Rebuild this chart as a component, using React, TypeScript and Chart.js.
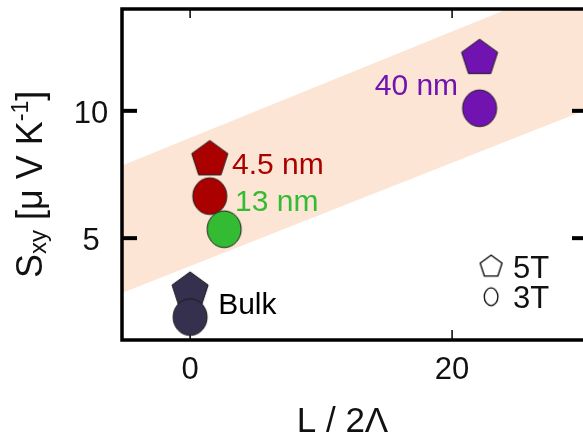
import { useEffect, useRef } from "react";
import { Chart, registerables } from "chart.js";

Chart.register(...registerables);

// ---------- data ----------
const samples = ["Bulk", "4.5 nm", "13 nm", "40 nm"];
const sampleColors = ["#36304f", "#aa0000", "#33bb33", "#7013b0"];
const xValues = [0, 1.5, 2.6, 22.1];
const s5T: (number | null)[] = [2.93, 8.09, null, 12.07];
const s3T = [1.9, 6.65, 5.35, 10.1];
const bandX = [-5.2, 30.3];
const bandLower = [2.85, 10.05];
const bandUpper = [7.85, 15.27];
const xTicks = [0, 20];
const yTicks = [5, 10];
const xTickLabels = ["0", "20"];
const yTickLabels = ["5", "10"];

const FONT = '"Liberation Sans", Arial, Helvetica, sans-serif';

function pentagonCanvas(R: number, fill: string, stroke: string, lw: number) {
  const size = Math.ceil(2 * R + 4);
  const c = document.createElement("canvas");
  c.width = size;
  c.height = size;
  const g = c.getContext("2d")!;
  const cx = size / 2;
  const cy = size / 2;
  g.beginPath();
  for (let k = 0; k < 5; k++) {
    const a = -Math.PI / 2 + (k * 2 * Math.PI) / 5;
    const px = cx + R * Math.cos(a);
    const py = cy + R * Math.sin(a);
    if (k === 0) g.moveTo(px, py);
    else g.lineTo(px, py);
  }
  g.closePath();
  g.fillStyle = fill;
  g.fill();
  g.lineWidth = lw;
  g.strokeStyle = stroke;
  g.stroke();
  return c;
}

function ellipseCanvas(rx: number, ry: number, fill: string, stroke: string, lw: number) {
  const w = Math.ceil(2 * rx + 4);
  const h = Math.ceil(2 * ry + 4);
  const c = document.createElement("canvas");
  c.width = w;
  c.height = h;
  const g = c.getContext("2d")!;
  g.beginPath();
  g.ellipse(w / 2, h / 2, rx, ry, 0, 0, Math.PI * 2);
  g.fillStyle = fill;
  g.fill();
  g.lineWidth = lw;
  g.strokeStyle = stroke;
  g.stroke();
  return c;
}

const annotations = [
  { text: "4.5 nm", x: 3.2, y: 7.95, align: "left", color: "#aa0000" },
  { text: "13 nm", x: 3.43, y: 6.5, align: "left", color: "#33bb33" },
  { text: "40 nm", x: 20.46, y: 11.05, align: "right", color: "#7013b0" },
  { text: "Bulk", x: 2.14, y: 2.45, align: "left", color: "#000000" },
];

const legendItems = [
  { text: "5T", shape: "pentagon", x: 22.98, y: 3.88 },
  { text: "3T", shape: "circle", x: 22.98, y: 2.7 },
];

const framePlugin = {
  id: "frame",
  afterDatasetDraw(chart: any, args: any) {
    if (args.index !== 1) return;
    const { ctx, chartArea: a, scales } = chart;
    ctx.save();
    ctx.strokeStyle = "#000";
    ctx.lineCap = "butt";
    const seg = (x1: number, y1: number, x2: number, y2: number) => {
      ctx.beginPath();
      ctx.moveTo(x1, y1);
      ctx.lineTo(x2, y2);
      ctx.stroke();
    };
    ctx.lineWidth = 4;
    for (const t of scales.y.ticks) {
      const py = scales.y.getPixelForValue(t.value);
      seg(a.left, py, a.left + 15, py);
      seg(a.right - 15, py, a.right, py);
    }
    ctx.lineWidth = 1.5;
    for (const t of scales.x.ticks) {
      const px = scales.x.getPixelForValue(t.value);
      seg(px, a.top, px, a.top + 9);
      seg(px, a.bottom, px, a.bottom - 10);
    }
    ctx.lineWidth = 3.5;
    ctx.strokeRect(a.left, a.top, a.right - a.left, a.bottom - a.top);
    ctx.restore();
  },
};

const textPlugin = {
  id: "texts",
  afterDraw(chart: any) {
    const { ctx, chartArea: a, scales } = chart;
    const xs = scales.x;
    const ys = scales.y;
    ctx.save();
    ctx.fillStyle = "#111";
    ctx.textBaseline = "alphabetic";
    // y tick labels
    ctx.font = `31px ${FONT}`;
    ctx.textAlign = "center";
    ys.ticks.forEach((t: any, i: number) => {
      const py = ys.getPixelForValue(t.value);
      const idx = yTicks.indexOf(t.value);
      ctx.fillText(yTickLabels[idx >= 0 ? idx : i], a.left - 31, py + 12);
    });
    // x tick labels
    xs.ticks.forEach((t: any, i: number) => {
      const px = xs.getPixelForValue(t.value);
      const idx = xTicks.indexOf(t.value);
      ctx.fillText(xTickLabels[idx >= 0 ? idx : i], px, a.bottom + 39);
    });
    // x title
    ctx.font = `35px ${FONT}`;
    ctx.fillText("L / 2\u039B", (a.left + a.right) / 2 - 12, a.bottom + 92);

    // y title (rotated, with sub/superscripts)
    ctx.save();
    ctx.translate(42, 278);
    ctx.rotate(-Math.PI / 2);
    ctx.textAlign = "left";
    const parts = [
      { t: "S", size: 36, dy: 0 },
      { t: "xy", size: 24, dy: 4 },
      { t: " [\u03BC V K", size: 36, dy: 0 },
      { t: "-1", size: 23, dy: -14 },
      { t: "]", size: 36, dy: 0 },
    ];
    let cx = 0;
    for (const p of parts) {
      ctx.font = `${p.size}px ${FONT}`;
      ctx.fillText(p.t, cx, p.dy);
      cx += ctx.measureText(p.t).width;
    }
    ctx.restore();

    // annotations
    ctx.font = `30px ${FONT}`;
    for (const an of annotations) {
      ctx.fillStyle = an.color;
      ctx.textAlign = an.align as CanvasTextAlign;
      ctx.fillText(an.text, xs.getPixelForValue(an.x), ys.getPixelForValue(an.y) + 10.7);
    }

    // legend
    ctx.fillStyle = "#111";
    ctx.textAlign = "left";
    ctx.font = `31px ${FONT}`;
    for (const li of legendItems) {
      const px = xs.getPixelForValue(li.x);
      const py = ys.getPixelForValue(li.y);
      const img =
        li.shape === "pentagon"
          ? pentagonCanvas(11.5, "#ffffff", "#000000", 1.3)
          : ellipseCanvas(6.8, 8.8, "#ffffff", "#000000", 1.3);
      ctx.drawImage(img, px - img.width / 2, py - img.height / 2);
      ctx.fillText(li.text, px + 22, py + 11.5);
    }
    ctx.restore();
  },
};

export default function App() {
  const ref = useRef<HTMLCanvasElement | null>(null);

  useEffect(() => {
    if (!ref.current) return;
    const pentIdx = xValues.map((_, i) => i).filter((i) => s5T[i] !== null);
    const pentData = pentIdx.map((i) => ({ x: xValues[i], y: s5T[i] as number }));
    const pentStyles = pentIdx.map((i) => pentagonCanvas(19, sampleColors[i], "#1a1a1a", 1));
    const circData = xValues.map((x, i) => ({ x, y: s3T[i] }));
    const circStyles = xValues.map((_, i) => ellipseCanvas(17, 18.3, sampleColors[i], "#1a1a1a", 1));

    const chart = new Chart(ref.current, {
      type: "scatter",
      data: {
        datasets: [
          {
            label: "band lower",
            data: bandX.map((x, i) => ({ x, y: bandLower[i] })),
            showLine: true,
            borderColor: "rgba(0,0,0,0)",
            borderWidth: 0,
            pointRadius: 0,
            fill: false,
            order: 4,
          },
          {
            label: "band upper",
            data: bandX.map((x, i) => ({ x, y: bandUpper[i] })),
            showLine: true,
            borderColor: "rgba(0,0,0,0)",
            borderWidth: 0,
            pointRadius: 0,
            backgroundColor: "#fde5d5",
            fill: "-1",
            order: 3,
          },
          {
            label: "5T",
            data: pentData,
            pointStyle: pentStyles as any,
            pointRadius: 19,
            order: 2,
          },
          {
            label: "3T",
            data: circData,
            pointStyle: circStyles as any,
            pointRadius: 18,
            order: 1,
          },
        ],
      },
      options: {
        responsive: false,
        animation: false,
        layout: { autoPadding: false, padding: { left: 122, right: 13, top: 9, bottom: 95 } },
        plugins: { legend: { display: false }, tooltip: { enabled: false } },
        scales: {
          x: {
            type: "linear",
            display: false,
            min: bandX[0],
            max: bandX[1],
            afterBuildTicks: (s: any) => {
              s.ticks = xTicks.map((v) => ({ value: v }));
            },
          },
          y: {
            type: "linear",
            display: false,
            min: 1,
            max: 14,
            afterBuildTicks: (s: any) => {
              s.ticks = yTicks.map((v) => ({ value: v }));
            },
          },
        },
      },
      plugins: [framePlugin, textPlugin],
    });
    return () => chart.destroy();
  }, []);

  return (
    <div
      style={{
        position: "absolute",
        left: 0,
        top: 0,
        width: 583,
        height: 435,
        overflow: "hidden",
        background: "#fff",
      }}
    >
      <canvas ref={ref} width={600} height={435} style={{ width: 600, height: 435, display: "block" }} />
    </div>
  );
}
